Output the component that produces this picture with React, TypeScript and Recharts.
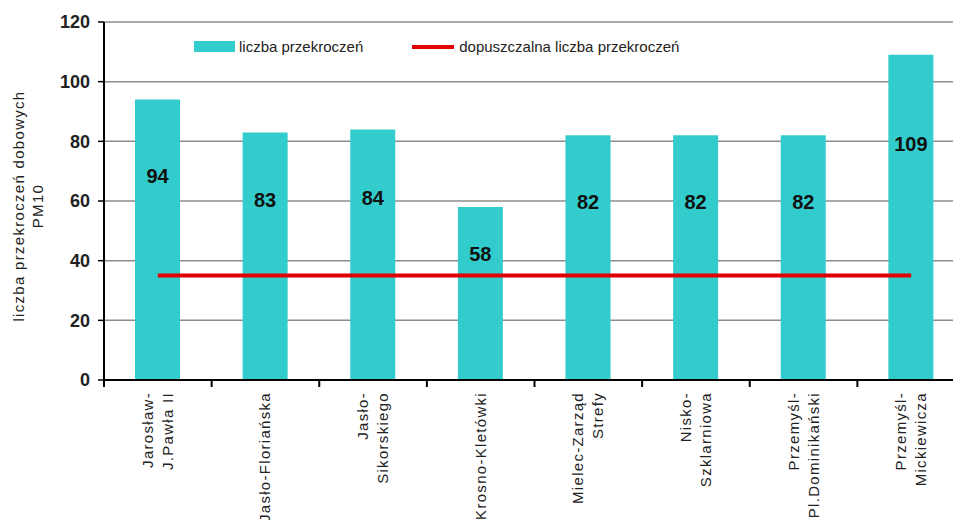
import { Bar, CartesianGrid, ComposedChart, LabelList, Line, XAxis, YAxis } from "recharts";

const stations = [
	"Jarosław-\nJ.Pawła II",
	"Jasło-Floriańska",
	"Jasło-\nSikorskiego",
	"Krosno-Kletówki",
	"Mielec-Zarząd\nStrefy",
	"Nisko-\nSzklarniowa",
	"Przemyśl-\nPl.Dominikański",
	"Przemyśl-\nMickiewicza",
];
const exceedances = [94, 83, 84, 58, 82, 82, 82, 109];
const allowed = [35, 35, 35, 35, 35, 35, 35, 35];
const yTicks = [0, 20, 40, 60, 80, 100, 120];

const data = stations.map((name, i) => ({
	name,
	count: exceedances[i],
	limit: allowed[i],
}));

const FONT = '"Liberation Sans", Arial, sans-serif';
const CHART_W = 970;
const CHART_H = 520;
const Y_AXIS_W = 104;
const MARGIN_RIGHT = 5;
const BAND = (CHART_W - Y_AXIS_W - MARGIN_RIGHT) / stations.length;

function StationTick({ x, y, payload }: any) {
	const lines = String(payload.value).split("\n");
	const start = lines.length === 1 ? 5 : -5;
	return (
		<g>
			<line x1={x - BAND / 2} x2={x - BAND / 2} y1={y} y2={y + 7} stroke="#000" strokeWidth={2} />
			<g transform={`translate(${x},${y + 12}) rotate(-90)`}>
				<text textAnchor="end" fontFamily={FONT} fontSize={15} letterSpacing={1.3} fill="#222">
					{lines.map((l, i) => (
						<tspan key={i} x={0} y={start + i * 20}>
							{l}
						</tspan>
					))}
				</text>
			</g>
		</g>
	);
}

function BarValue({ x, y, width, height, value }: any) {
	return (
		<text
			x={x + width / 2}
			y={y + height * 0.28}
			textAnchor="middle"
			dominantBaseline="middle"
			fontFamily={FONT}
			fontSize={20}
			fontWeight="bold"
			fill="#111"
		>
			{value}
		</text>
	);
}

function YTitle({ viewBox }: any) {
	const cy = viewBox.y + viewBox.height / 2 + 5;
	return (
		<g transform={`translate(0,${cy}) rotate(-90)`}>
			<text textAnchor="middle" fontFamily={FONT} fontSize={15} letterSpacing={1.3} fill="#222">
				<tspan x={0} y={24}>liczba przekroczeń dobowych</tspan>
				<tspan x={0} y={43}>PM10</tspan>
			</text>
		</g>
	);
}

function LegendBox() {
	const item = { display: "flex", alignItems: "center", fontFamily: FONT, fontSize: 15, color: "#222" };
	return (
		<div style={{ position: "absolute", left: 194, top: 38, display: "flex", alignItems: "center" }}>
			<div style={item}>
				<span style={{ display: "inline-block", width: 41, height: 11, background: "#33CCCC", marginRight: 4 }} />
				liczba przekroczeń
			</div>
			<div style={{ ...item, marginLeft: 49 }}>
				<span style={{ display: "inline-block", width: 42, height: 4, background: "#E00000", marginRight: 5 }} />
				dopuszczalna liczba przekroczeń
			</div>
		</div>
	);
}

export default function App() {
	return (
		<div
			style={{
				position: "absolute",
				left: 0,
				top: 0,
				width: 953,
				height: 520,
				overflow: "hidden",
				background: "#fff",
			}}
		>
			<ComposedChart
				width={CHART_W}
				height={CHART_H}
				data={data}
				margin={{ top: 22, right: MARGIN_RIGHT, bottom: 0, left: 0 }}
			>
				<CartesianGrid vertical={false} stroke="#8c8c8c" strokeWidth={1.5} />
				<XAxis
					dataKey="name"
					height={140}
					interval={0}
					tickSize={0}
					tickMargin={0}
					tickLine={false}
					axisLine={{ stroke: "#000", strokeWidth: 2 }}
					tick={<StationTick />}
				/>
				<YAxis
					width={Y_AXIS_W}
					domain={[0, 120]}
					ticks={yTicks}
					interval={0}
					tickSize={6}
					tickMargin={8}
					axisLine={{ stroke: "#000", strokeWidth: 2 }}
					tickLine={{ stroke: "#000", strokeWidth: 1.5 }}
					tick={{ fontFamily: FONT, fontSize: 18, fontWeight: "bold", fill: "#222" }}
					label={<YTitle />}
				/>
				<Bar dataKey="count" fill="#33CCCC" barSize={45} isAnimationActive={false}>
					<LabelList dataKey="count" content={<BarValue />} />
				</Bar>
				<Line
					dataKey="limit"
					type="linear"
					stroke="#E00000"
					strokeWidth={4}
					dot={false}
					activeDot={false}
					isAnimationActive={false}
				/>
			</ComposedChart>
			<LegendBox />
		</div>
	);
}
